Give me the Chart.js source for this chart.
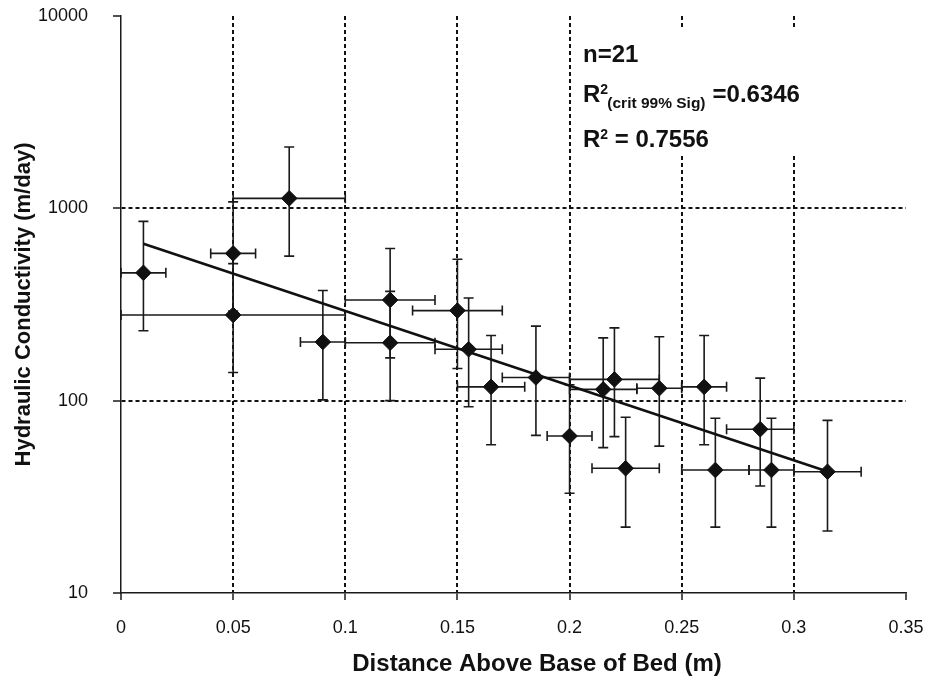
<!DOCTYPE html>
<html>
<head>
<meta charset="utf-8">
<title>Hydraulic Conductivity vs Distance Above Base of Bed</title>
<script src="https://cdn.jsdelivr.net/npm/chart.js@4.4.1/dist/chart.umd.min.js"></script>
<style>
    html, body { margin: 0; padding: 0; background: #ffffff; }
    #wrap { width: 931px; height: 682px; position: relative; }
</style>
</head>
<body>
<div id="wrap"><canvas id="kChart"></canvas></div>
<script>
// ===================================
// DATA
// ===================================

// distance above base of bed (m)
const distance = [0.01, 0.05, 0.05, 0.075, 0.09, 0.12, 0.12, 0.15, 0.155, 0.165, 0.185,
                  0.2, 0.215, 0.22, 0.225, 0.24, 0.26, 0.265, 0.285, 0.29, 0.315];
// hydraulic conductivity (m/day)
const conductivity = [462, 583, 279, 1127, 202, 200, 334, 294, 185, 118, 132,
                      65.5, 114.5, 129, 44.5, 116, 118, 43.6, 71, 43.6, 42.7];
// +/- error on distance (m)
const distanceErr = [0.01, 0.01, 0.05, 0.025, 0.01, 0.02, 0.02, 0.02, 0.015, 0.015, 0.015,
                     0.01, 0.015, 0.02, 0.015, 0.01, 0.01, 0.015, 0.015, 0.01, 0.015];
// error bar ends on conductivity (m/day)
const conductivityHigh = [855, 1080, 516, 2085, 374, 370, 618, 544, 342, 218, 244,
                          121, 212, 239, 82, 215, 218, 81, 131, 81, 79];
const conductivityLow = [231, 292, 140, 564, 101, 100, 167, 147, 93, 59, 66,
                         33, 57, 65, 22, 58, 59, 22, 36, 22, 21];

// exponential trend line (straight on the log axis)
const trendDistance = [0.01, 0.315];
const trendConductivity = [655, 42.8];

// axes
const xTicks = [0, 0.05, 0.1, 0.15, 0.2, 0.25, 0.3, 0.35];
const xTickLabels = ['0', '0.05', '0.1', '0.15', '0.2', '0.25', '0.3', '0.35'];
const yTicks = [10, 100, 1000, 10000];
const yTickLabels = ['10', '100', '1000', '10000'];
const xGridAt = [0.05, 0.1, 0.15, 0.2, 0.25, 0.3];
const yGridAt = [100, 1000];

const xTitle = 'Distance Above Base of Bed (m)';
const yTitle = 'Hydraulic Conductivity (m/day)';

// ===================================
// STYLE
// ===================================

const ink = '#111111';
const fontFamily = "'Liberation Sans', Arial, Helvetica, sans-serif";

// ===================================
// PLUGINS
// ===================================

// error bars in x and y, drawn under the markers
const errorBars = {
    id: 'errorBars',
    beforeDatasetsDraw(chart) {
        const { ctx, scales: { x, y } } = chart;
        const cap = 5;
        ctx.save();
        ctx.strokeStyle = '#1a1a1a';
        ctx.lineWidth = 1.6;
        distance.forEach((d, i) => {
            const px = x.getPixelForValue(d);
            const py = y.getPixelForValue(conductivity[i]);
            const xl = x.getPixelForValue(d - distanceErr[i]);
            const xr = x.getPixelForValue(d + distanceErr[i]);
            const yt = y.getPixelForValue(conductivityHigh[i]);
            const yb = y.getPixelForValue(conductivityLow[i]);
            ctx.beginPath();
            // horizontal
            ctx.moveTo(xl, py); ctx.lineTo(xr, py);
            ctx.moveTo(xl, py - cap); ctx.lineTo(xl, py + cap);
            ctx.moveTo(xr, py - cap); ctx.lineTo(xr, py + cap);
            // vertical
            ctx.moveTo(px, yt); ctx.lineTo(px, yb);
            ctx.moveTo(px - cap, yt); ctx.lineTo(px + cap, yt);
            ctx.moveTo(px - cap, yb); ctx.lineTo(px + cap, yb);
            ctx.stroke();
        });
        ctx.restore();
    }
};

// statistics text box (covers the grid lines behind it) and the x-axis title
const statsBox = {
    id: 'statsBox',
    beforeDatasetsDraw(chart) {
        const { ctx } = chart;
        ctx.save();
        ctx.fillStyle = '#ffffff';
        ctx.fillRect(574, 28, 306, 127);

        ctx.fillStyle = ink;
        ctx.textAlign = 'left';
        ctx.textBaseline = 'alphabetic';
        const big = 'bold 24px ' + fontFamily;
        const sup = 'bold 14px ' + fontFamily;
        const sub = 'bold 15.5px ' + fontFamily;
        const left = 583;

        ctx.font = big;
        ctx.fillText('n=21', left, 62);

        // R2 (crit 99% Sig) =0.6346
        ctx.font = big;
        ctx.fillText('R', left, 102);
        let rEnd = left + ctx.measureText('R').width;
        ctx.font = sup;
        ctx.fillText('2', rEnd, 94);
        ctx.font = sub;
        ctx.fillText('(crit 99% Sig)', rEnd + 7, 108);
        const cx = rEnd + 7 + ctx.measureText('(crit 99% Sig)').width + 7;
        ctx.font = big;
        ctx.fillText('=0.6346', cx, 102);

        // R2 = 0.7556
        ctx.font = big;
        ctx.fillText('R', left, 147);
        rEnd = left + ctx.measureText('R').width;
        ctx.font = sup;
        ctx.fillText('2', rEnd, 139);
        const sx = rEnd + ctx.measureText('2').width;
        ctx.font = big;
        ctx.fillText(' = 0.7556', sx, 147);
        ctx.restore();
    },
    afterDraw(chart) {
        const { ctx } = chart;
        ctx.save();
        ctx.fillStyle = ink;
        ctx.font = 'bold 24px ' + fontFamily;
        ctx.textAlign = 'center';
        ctx.textBaseline = 'alphabetic';
        ctx.fillText(xTitle, 537, 671);
        ctx.restore();
    }
};

// ===================================
// CHART
// ===================================

document.addEventListener('DOMContentLoaded', () => {
    Chart.defaults.font.family = fontFamily;
    Chart.defaults.color = ink;

    new Chart(document.getElementById('kChart').getContext('2d'), {
        type: 'scatter',
        data: {
            datasets: [
                {
                    label: 'Trend',
                    type: 'line',
                    data: trendDistance.map((d, i) => ({ x: d, y: trendConductivity[i] })),
                    borderColor: ink,
                    borderWidth: 2.6,
                    pointRadius: 0,
                    fill: false,
                    order: 0
                },
                {
                    label: 'K',
                    data: distance.map((d, i) => ({ x: d, y: conductivity[i] })),
                    pointStyle: 'rectRot',
                    pointRadius: 7.8,
                    backgroundColor: ink,
                    borderColor: ink,
                    borderWidth: 1,
                    order: 1
                }
            ]
        },
        options: {
            responsive: true,
            maintainAspectRatio: false,
            animation: false,
            events: [],
            layout: { padding: { top: 16, right: 25, left: 0, bottom: 0 } },
            plugins: {
                legend: { display: false },
                tooltip: { enabled: false }
            },
            scales: {
                x: {
                    type: 'linear',
                    min: 0,
                    max: 0.35,
                    afterBuildTicks: scale => { scale.ticks = xTicks.map(v => ({ value: v })); },
                    afterFit: scale => {
                        scale.height = 89;
                        scale.paddingLeft = 0;
                        scale.paddingRight = 0;
                    },
                    ticks: {
                        callback: v => xTickLabels[xTicks.indexOf(v)],
                        font: { size: 18 },
                        color: ink,
                        padding: 17,
                        maxRotation: 0,
                        autoSkip: false
                    },
                    grid: {
                        color: c => (c.tick && xGridAt.includes(c.tick.value)) ? ink : 'rgba(0,0,0,0)',
                        lineWidth: 2,
                        tickColor: '#1a1a1a',
                        tickWidth: 1.5,
                        tickLength: 7
                    },
                    border: { display: true, color: '#1a1a1a', width: 1.5, dash: [4, 3] },
                    title: { display: false, text: xTitle }
                },
                y: {
                    type: 'logarithmic',
                    min: 10,
                    max: 10000,
                    afterBuildTicks: scale => { scale.ticks = yTicks.map(v => ({ value: v, major: true })); },
                    afterFit: scale => {
                        scale.width = 121;
                        scale.paddingTop = 0;
                        scale.paddingBottom = 0;
                    },
                    ticks: {
                        callback: v => yTickLabels[yTicks.indexOf(v)],
                        font: { size: 18 },
                        color: ink,
                        padding: 25,
                        autoSkip: false
                    },
                    grid: {
                        color: c => (c.tick && yGridAt.includes(c.tick.value)) ? ink : 'rgba(0,0,0,0)',
                        lineWidth: 2,
                        tickColor: '#1a1a1a',
                        tickWidth: 1.5,
                        tickLength: 8
                    },
                    border: { display: true, color: '#1a1a1a', width: 1.5, dash: [4, 3] },
                    title: {
                        display: true,
                        text: yTitle,
                        font: { size: 22, weight: 'bold' },
                        color: ink,
                        padding: { top: 11, bottom: 0 }
                    }
                }
            }
        },
        plugins: [errorBars, statsBox]
    });
});
</script>
</body>
</html>
